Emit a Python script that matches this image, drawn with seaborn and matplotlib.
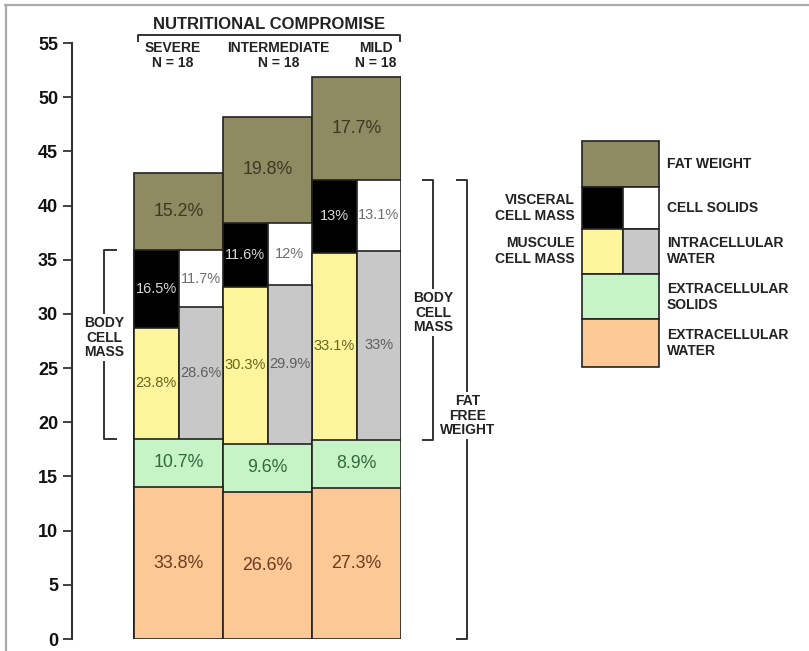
import numpy as np
import pandas as pd
import matplotlib
matplotlib.use("Agg")
import matplotlib.pyplot as plt
import seaborn as sns
from matplotlib.patches import Rectangle

# ---------------- data (kg) ----------------
groups = ["SEVERE", "INTERMEDIATE", "MILD"]
n_subjects = [18, 18, 18]
ecw = [14.0, 13.6, 13.9]          # extracellular water
ecs = [4.5, 4.4, 4.5]             # extracellular solids
muscle = [10.2, 14.5, 17.2]       # muscle cell mass (left half)
visceral = [7.2, 5.9, 6.8]        # visceral cell mass (left half)
icw = [12.1, 14.7, 17.4]          # intracellular water (right half)
cell_solids = [5.3, 5.7, 6.6]     # cell solids (right half)
fat = [7.1, 9.8, 9.5]             # fat weight

pct_fat = ["15.2%", "19.8%", "17.7%"]
pct_visceral = ["16.5%", "11.6%", "13%"]
pct_solids = ["11.7%", "12%", "13.1%"]
pct_muscle = ["23.8%", "30.3%", "33.1%"]
pct_icw = ["28.6%", "29.9%", "33%"]
pct_ecs = ["10.7%", "9.6%", "8.9%"]
pct_ecw = ["33.8%", "26.6%", "27.3%"]

yticks = list(range(0, 56, 5))

C = {
    "fat": "#8e8a62", "visceral": "#000000", "solids": "#ffffff",
    "muscle": "#fdf59c", "icw": "#c8c8c8", "ecs": "#c6f4c6", "ecw": "#fcc896",
}
TXT = {
    "fat": "#3a3a22", "visceral": "#d8d8d8", "solids": "#6e6e6e",
    "muscle": "#66661e", "icw": "#5e5e5e", "ecs": "#2f6a3c", "ecw": "#6a3d22",
}
EDGE = "#222222"

# ---------------- derived stacks ----------------
ecw_a = np.array(ecw)
ecs_top = ecw_a + np.array(ecs)
lw_top = ecs_top + np.array(muscle)
rw_top = ecs_top + np.array(icw)
lc_top = lw_top + np.array(visceral)
rc_top = rw_top + np.array(cell_solids)
fat_top = np.maximum(lc_top, rc_top) + np.array(fat)

df_full = pd.DataFrame({"group": groups, "fat_top": fat_top,
                        "ecs_top": ecs_top, "ecw_top": ecw_a})
df_half = pd.DataFrame({"group": groups * 2,
                        "half": ["L"] * 3 + ["R"] * 3,
                        "cell_top": np.concatenate([lc_top, rc_top]),
                        "water_top": np.concatenate([lw_top, rw_top])})

sns.set_theme(style="ticks")
plt.rcParams["font.family"] = ["Liberation Sans", "DejaVu Sans"]

W, H = 809, 651
fig = plt.figure(figsize=(W / 100, H / 100), dpi=100)
ax = fig.add_axes([72 / W, 1 - 639 / H, (401 - 72) / W, (639 - 43) / H])

common = dict(order=groups, errorbar=None, saturation=1, edgecolor=EDGE,
              linewidth=1.2, ax=ax, width=1.0)
sns.barplot(data=df_full, x="group", y="fat_top", color=C["fat"], **common)
sns.barplot(data=df_half, x="group", y="cell_top", hue="half", hue_order=["L", "R"],
            palette=[C["visceral"], C["solids"]], dodge=True, legend=False, **common)
sns.barplot(data=df_half, x="group", y="water_top", hue="half", hue_order=["L", "R"],
            palette=[C["muscle"], C["icw"]], dodge=True, legend=False, **common)
sns.barplot(data=df_full, x="group", y="ecs_top", color=C["ecs"], **common)
sns.barplot(data=df_full, x="group", y="ecw_top", color=C["ecw"], **common)

ax.set_xlim(-1.197, 2.50)
ax.set_ylim(0, 55)
ax.set_yticks(yticks)
ax.set_yticklabels([str(t) for t in yticks], fontsize=13, fontweight="bold", color="#111111")
ax.set_xticks([])
ax.set_xlabel("")
ax.set_ylabel("")
for s in ["top", "right", "bottom"]:
    ax.spines[s].set_visible(False)
ax.spines["left"].set_color("#333333")
ax.spines["left"].set_linewidth(1.5)
ax.tick_params(axis="y", direction="out", length=6.5, width=1.3, color="#333333", pad=3.5)
ax.patch.set_visible(False)

# ---------------- percentage labels ----------------
BIG, SMALL = 12.8, 10.5
for i in range(3):
    ax.text(i, (fat_top[i] + max(lc_top[i], rc_top[i])) / 2, pct_fat[i], ha="center",
            va="center", fontsize=BIG, color=TXT["fat"])
    ax.text(i - 0.25, (lw_top[i] + lc_top[i]) / 2, pct_visceral[i], ha="center",
            va="center", fontsize=SMALL, color=TXT["visceral"])
    ax.text(i + 0.25, (rw_top[i] + rc_top[i]) / 2, pct_solids[i], ha="center",
            va="center", fontsize=SMALL, color=TXT["solids"])
    ax.text(i - 0.25, (ecs_top[i] + lw_top[i]) / 2, pct_muscle[i], ha="center",
            va="center", fontsize=SMALL, color=TXT["muscle"])
    ax.text(i + 0.25, (ecs_top[i] + rw_top[i]) / 2, pct_icw[i], ha="center",
            va="center", fontsize=SMALL, color=TXT["icw"])
    ax.text(i, (ecw_a[i] + ecs_top[i]) / 2, pct_ecs[i], ha="center",
            va="center", fontsize=BIG, color=TXT["ecs"])
    ax.text(i, ecw_a[i] / 2, pct_ecw[i], ha="center", va="center",
            fontsize=BIG, color=TXT["ecw"])

# ---------------- brackets ----------------
BR = dict(color="#333333", lw=1.4, clip_on=False, solid_capstyle="butt")


def vbracket(x, y0, y1, dx):
    ax.plot([x + dx, x, x, x + dx], [y0, y0, y1, y1], **BR)


def btext(x, y, s):
    ax.text(x, y, s, ha="center", va="center", fontsize=10, fontweight="bold",
            color="#222222", linespacing=1.05,
            bbox=dict(boxstyle="square,pad=0.15", fc="white", ec="none"))


# left BCM bracket (severe)
vbracket(-0.837, ecs_top[0], lc_top[0], 0.15)
btext(-0.837, 27.8, "BODY\nCELL\nMASS")
# right BCM bracket (mild)
vbracket(2.86, ecs_top[2], lc_top[2], -0.12)
btext(2.86, 30.1, "BODY\nCELL\nMASS")
# fat free weight bracket
vbracket(3.24, 0, lc_top[2], -0.12)
btext(3.25, 20.6, "FAT\nFREE\nWEIGHT")

# top bracket
ax.plot([-0.455, -0.455, 2.49, 2.49], [55.1, 55.7, 55.7, 55.1], **BR)
ax.text(1.02, 56.75, "NUTRITIONAL COMPROMISE", ha="center", va="center",
        fontsize=12, fontweight="bold", color="#222222")
for xpos, g, n in zip([-0.07, 1.12, 2.22], groups, n_subjects):
    ax.text(xpos, 53.85, f"{g}\nN = {n}", ha="center", va="center", fontsize=10,
            fontweight="bold", color="#222222", linespacing=1.1)

# ---------------- legend (figure pixel coordinates) ----------------
lax = fig.add_axes([0, 0, 1, 1])
lax.set_xlim(0, W)
lax.set_ylim(H, 0)
lax.axis("off")
lax.patch.set_visible(False)

RK = dict(ec=EDGE, lw=1.2)
lax.add_patch(Rectangle((582, 141), 77, 46, fc=C["fat"], **RK))
lax.add_patch(Rectangle((582, 187), 41, 42, fc=C["visceral"], **RK))
lax.add_patch(Rectangle((623, 187), 36, 42, fc=C["solids"], **RK))
lax.add_patch(Rectangle((582, 229), 41, 45, fc=C["muscle"], **RK))
lax.add_patch(Rectangle((623, 229), 36, 45, fc=C["icw"], **RK))
lax.add_patch(Rectangle((582, 274), 77, 45, fc=C["ecs"], **RK))
lax.add_patch(Rectangle((582, 319), 77, 48, fc=C["ecw"], **RK))

LT = dict(fontsize=10, fontweight="bold", color="#222222", va="center", linespacing=1.1)
lax.text(667, 164, "FAT WEIGHT", ha="left", **LT)
lax.text(667, 208, "CELL SOLIDS", ha="left", **LT)
lax.text(667, 251, "INTRACELLULAR\nWATER", ha="left", **LT)
lax.text(667, 297, "EXTRACELLULAR\nSOLIDS", ha="left", **LT)
lax.text(667, 343, "EXTRACELLULAR\nWATER", ha="left", **LT)
lax.text(575, 208, "VISCERAL\nCELL MASS", ha="right", **LT)
lax.text(575, 251, "MUSCULE\nCELL MASS", ha="right", **LT)

# image frame (top and left)
lax.plot([5, W], [4.5, 4.5], color="#aaaaaa", lw=1.6, clip_on=False)
lax.plot([6, 6], [4.5, H], color="#aaaaaa", lw=1.6, clip_on=False)

fig.savefig("out.png", dpi=100)
